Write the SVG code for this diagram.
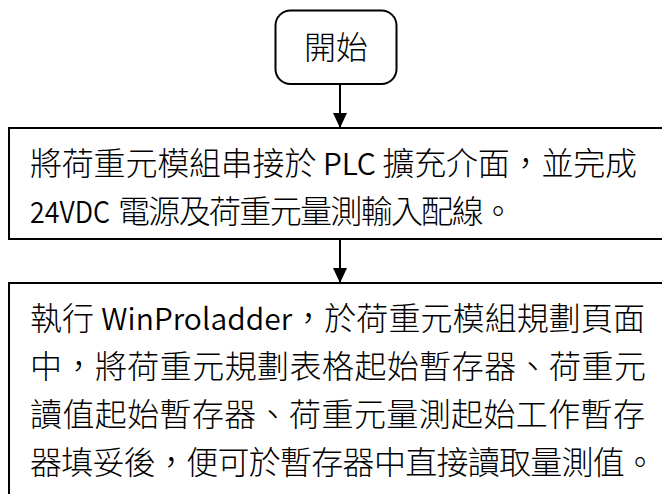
<svg xmlns="http://www.w3.org/2000/svg" width="662" height="494" viewBox="0 0 662 494">
<style>
.box{fill:#fff;stroke:#000;stroke-width:2}
.t{font-family:"Noto Sans CJK TC","Noto Sans CJK SC",sans-serif;font-size:32px;font-weight:300;fill:#000}
.lat{font-weight:350;font-size:30px}
.conn{stroke:#000;stroke-width:2;fill:none}
</style>
<defs>
<marker id="ah" markerUnits="userSpaceOnUse" markerWidth="15" markerHeight="14" refX="15" refY="7" orient="auto">
<path d="M0,0 L15,7 L0,14 z" fill="#000"/>
</marker>
</defs>
<rect width="662" height="494" fill="#fff"/>
<g id="connectors">
<path class="conn" d="M340,84 L340,128" marker-end="url(#ah)"/>
<path class="conn" d="M340,239 L340,283" marker-end="url(#ah)"/>
</g>
<g id="start">
<rect class="box" x="275.5" y="10.5" width="121" height="73.5" rx="15"/>
<text class="t" x="336" y="59" text-anchor="middle">開始</text>
</g>
<g id="step1">
<rect class="box" x="9" y="128" width="670" height="111"/>
<text class="t" x="30" y="175" textLength="607" lengthAdjust="spacing">將荷重元模組串接於 <tspan class="lat">PLC</tspan> 擴充介面，並完成</text>
<text class="t" y="223"><tspan class="lat" x="30" textLength="80" lengthAdjust="spacingAndGlyphs">24VDC</tspan><tspan x="118" textLength="396" lengthAdjust="spacing">電源及荷重元量測輸入配線。</tspan></text>
</g>
<g id="step2">
<rect class="box" x="9" y="283" width="670" height="230"/>
<text class="t" x="30" y="330" textLength="615" lengthAdjust="spacing">執行 <tspan class="lat">WinProladder</tspan>，於荷重元模組規劃頁面</text>
<text class="t" x="30" y="378" textLength="616" lengthAdjust="spacing">中，將荷重元規劃表格起始暫存器、荷重元</text>
<text class="t" x="30" y="426" textLength="615" lengthAdjust="spacing">讀值起始暫存器、荷重元量測起始工作暫存</text>
<text class="t" x="30" y="474" textLength="626" lengthAdjust="spacing">器填妥後，便可於暫存器中直接讀取量測值。</text>
</g>
</svg>
